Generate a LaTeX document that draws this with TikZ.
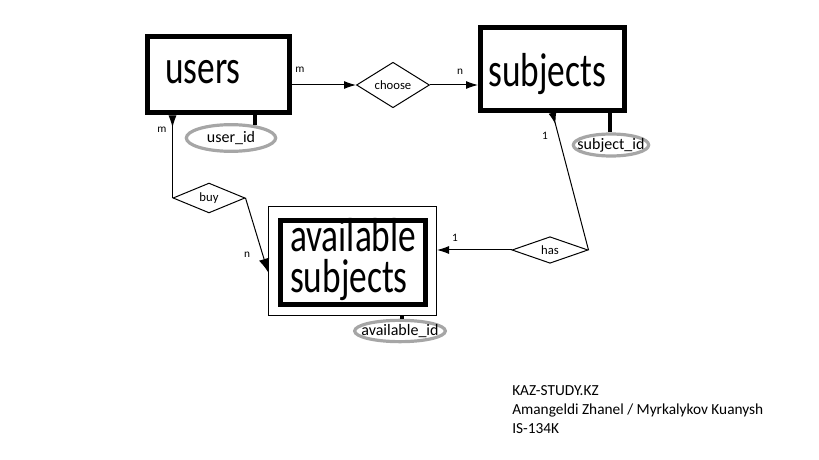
\documentclass[tikz,border=0pt]{standalone}
\usepackage{graphicx}
\usepackage{fontspec}
\setmainfont{Carlito}
\usepackage{tikz}
\usetikzlibrary{shapes.geometric,arrows.meta,positioning,calc}
\newcommand{\tallname}[1]{\scalebox{1}[1.35]{#1}}

\begin{document}
\begin{tikzpicture}[x=0.75pt, y=-0.75pt,
    entity/.style={draw, rectangle, line width=3.75pt},
    bigname/.style={anchor=base west, inner sep=0pt, font=\fontsize{26.5}{30}\selectfont},
    relation/.style={draw, diamond, line width=0.75pt, inner sep=0pt, font=\fontsize{9.5}{11}\selectfont},
    attr/.style={draw=gray!70, ellipse, line width=2.4pt},
    attrname/.style={inner sep=0pt, font=\fontsize{12}{14}\selectfont},
    card/.style={inner sep=0pt, font=\fontsize{8.5}{10}\selectfont},
    key/.style={line width=3pt},
    link/.style={line width=0.75pt},
    tip/.style={-{Latex[length=9pt,width=6pt]}},
    backtip/.style={{Latex[reversed,length=9pt,width=6pt]}-}
]
    \useasboundingbox (0,0) rectangle (819,460);

    % Entities
    \node [entity, minimum width=106.5pt, minimum height=57pt] (users) at (218.5,75) {};
    \node [bigname] (userstext) at ($(users.west)+(20,9)$) {\tallname{users}};
    \node [entity, minimum width=108pt, minimum height=62pt] (subjects) at (552.5,69) {};
    \node [bigname] (subjectstext) at ($(subjects.west)+(10,18)$) {\tallname{subjects}};
    \node [draw, rectangle, line width=0.75pt, minimum width=126pt, minimum height=82pt] (availframe) at (352.5,261) {};
    \node [entity, minimum width=109pt, minimum height=63pt] (availbox) at (353,262.5) {};
    \node [anchor=west, align=left, inner sep=0pt, font=\fontsize{26.5}{30.75}\selectfont] (availtext)
        at ($(availbox.west)+(12,-2.5)$) {\tallname{available}\\\tallname{subjects}};

    % Relations
    \node [relation, minimum width=54.75pt, minimum height=22.5pt] (choose) at (393,85) {choose};
    \node [relation, minimum width=54pt, minimum height=18.75pt] (buy) at (209,198) {buy};
    \node [relation, minimum width=57pt, minimum height=18.75pt] (has) at (550,250) {has};

    % Keys
    \node [attr, minimum width=67pt, minimum height=20pt] (userid) at (231,138) {};
    \node [attrname] (useridtext) at (userid) {user\_id};
    \node [attr, minimum width=56.5pt, minimum height=16.5pt] (subjid) at (611,145) {};
    \node [attrname] (subjidtext) at (subjid) {subject\_id};
    \node [attr, minimum width=68pt, minimum height=16pt] (availid) at (400,331) {};
    \node [attrname] (availidtext) at (availid) {available\_id};
    \draw [key] (users.south -| userid.28) -- (userid.28);
    \draw [key] (subjects.south -| subjid.95) -- (subjid.95);
    \draw [key] (availframe.south -| availid.82) -- (availid.82);

    % Links
    \draw [link, tip] (users.east |- choose.west) -- (choose.west);
    \draw [link, tip] (choose.east) -- (choose.east -| subjects.west);
    \draw [link, backtip] (users.south -| buy.west) -- (buy.west);
    \draw [link, -{Latex[length=10pt,width=8pt]}] (buy.east) -- ([yshift=-8.25pt]availframe.west);
    \draw [link, tip] (has.west) -- (has.west -| availframe.east);
    \draw [link, backtip] (subjects.south) -- (has.east);

    % Cardinalities
    \node [card] (mchoose) at ($(users.east)+(8,-5)$) {m};
    \node [card] (nchoose) at ($(subjects.west)+(-18,3)$) {n};
    \node [card] (mbuy) at ($(users.south west)+(17,14)$) {m};
    \node [card] (nbuy) at ($(availframe.west)+(-21,-6)$) {n};
    \node [card] (onehasav) at ($(availframe.east)+(18,-23)$) {1};
    \node [card] (onehassub) at ($(subjects.south)+(-7.5,23)$) {1};

    % Credits
    \node [anchor=north west, align=left, inner sep=0pt, font=\fontsize{11.5}{14.5}\selectfont] (credits) at (512,385)
        {KAZ-STUDY.KZ\\Amangeldi Zhanel / Myrkalykov Kuanysh\\IS-134K};
\end{tikzpicture}
\end{document}
